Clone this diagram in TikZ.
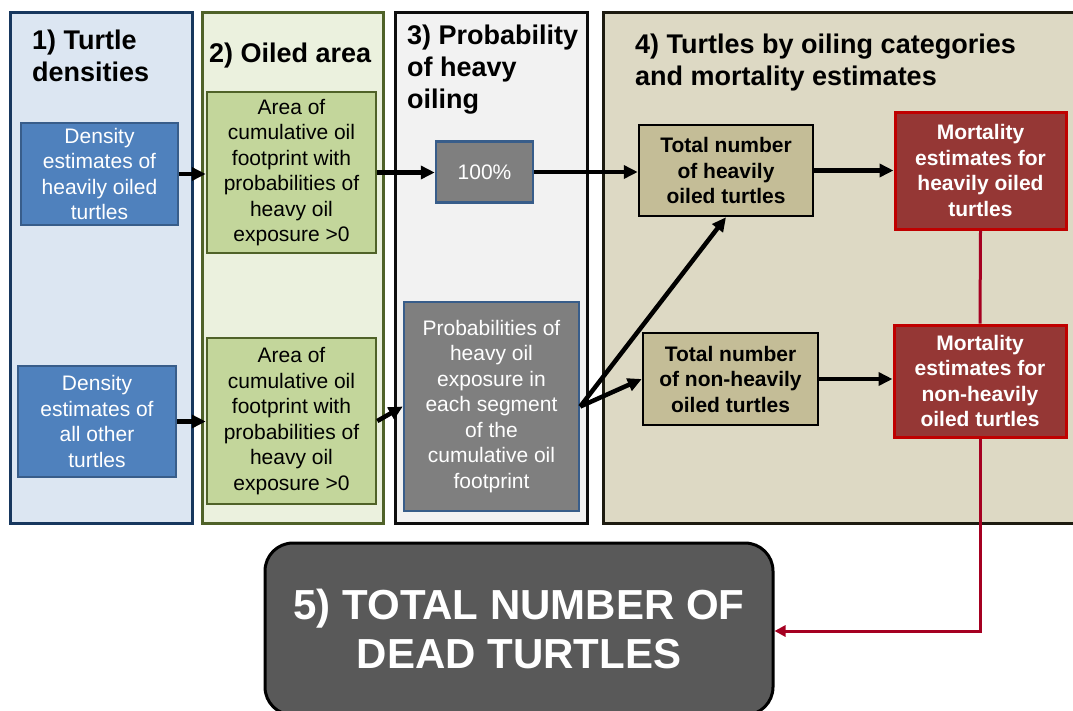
\documentclass[tikz,border=0pt]{standalone}
\usepackage{fontspec}
\setmainfont{Liberation Sans}
\usetikzlibrary{arrows.meta}
\definecolor{colAfill}{HTML}{DCE6F2}
\definecolor{colAdraw}{HTML}{17375E}
\definecolor{colBfill}{HTML}{EBF1DE}
\definecolor{colBdraw}{HTML}{4F6228}
\definecolor{colCfill}{HTML}{F2F2F2}
\definecolor{colCdraw}{HTML}{0D0D0D}
\definecolor{colDfill}{HTML}{DDD9C4}
\definecolor{colDdraw}{HTML}{1D1B10}
\definecolor{bluefill}{HTML}{4F81BD}
\definecolor{bluedraw}{HTML}{385D8A}
\definecolor{greenfill}{HTML}{C3D69B}
\definecolor{grayfill}{HTML}{7F7F7F}
\definecolor{tanfill}{HTML}{C4BD97}
\definecolor{redfill}{HTML}{953735}
\definecolor{reddraw}{HTML}{C00000}
\definecolor{deadfill}{HTML}{595959}
\definecolor{redline}{HTML}{A50021}
\tikzset{
  column/.style={draw, line width=3pt, inner sep=0pt},
  coltitle/.style={anchor=north west, align=left, inner sep=0pt, font=\bfseries\fontsize{27}{32}\selectfont},
  box/.style={draw, line width=2.5pt, align=center, inner sep=0pt, font=\fontsize{21}{25.5}\selectfont},
  bluebox/.style={box, fill=bluefill, draw=bluedraw, text=white},
  greenbox/.style={box, fill=greenfill, draw=colBdraw, text=black},
  graybox/.style={box, fill=grayfill, draw=bluedraw, text=white},
  tanbox/.style={box, fill=tanfill, draw=black, text=black, font=\bfseries\fontsize{21}{25.5}\selectfont},
  redbox/.style={box, fill=redfill, draw=reddraw, line width=3pt, text=white, font=\bfseries\fontsize{21}{25.5}\selectfont},
  flow/.style={line width=4.5pt, -{Triangle[length=14pt,width=13pt]}},
  redflow/.style={draw=redline, line width=3pt},
}
\begin{document}
\begin{tikzpicture}[x=1pt,y=-1pt]
\useasboundingbox (0,0) rectangle (1073,710);
% columns
\node[column, fill=colAfill, draw=colAdraw, minimum width=182pt, minimum height=511pt] (col1) at (101,267.5) {};
\node[column, fill=colBfill, draw=colBdraw, minimum width=181pt, minimum height=511pt] (col2) at (292.5,267.5) {};
\node[column, fill=colCfill, draw=colCdraw, minimum width=192pt, minimum height=511pt] (col3) at (491,267.5) {};
\node[column, fill=colDfill, draw=colDdraw, minimum width=490pt, minimum height=511pt, anchor=west] (col4) at (602,267.5) {};
% titles
\node[coltitle] (t1) at (32,30) {1) Turtle\\densities};
\node[coltitle] (t2) at (209,43) {2) Oiled area};
\node[coltitle] (t3) at (407,25) {3) Probability\\of heavy\\oiling};
\node[coltitle] (t4) at (635,34) {4) Turtles by oiling categories\\and mortality estimates};
% boxes
\node[bluebox, minimum width=157pt, minimum height=102pt] (dh) at (99.5,174) {Density\\estimates of\\heavily oiled\\turtles};
\node[bluebox, minimum width=158pt, minimum height=111pt] (do) at (97,421.5) {Density\\estimates of\\all other\\turtles};
\node[greenbox, minimum width=169pt, minimum height=161pt] (at) at (291.5,172.5) {Area of\\cumulative oil\\footprint with\\probabilities of\\heavy oil\\exposure >0};
\node[greenbox, minimum width=169pt, minimum height=166pt] (ab) at (291.5,421) {Area of\\cumulative oil\\footprint with\\probabilities of\\heavy oil\\exposure >0};
\node[graybox, minimum width=97pt, minimum height=61pt] (hp) at (484.5,172) {100\%};
\node[graybox, minimum width=175pt, minimum height=209pt] (pr) at (491.5,406.5) {Probabilities of\\heavy oil\\exposure in\\each segment\\of the\\cumulative oil\\footprint};
\node[tanbox, minimum width=174pt, minimum height=91pt] (th) at (726,170.5) {Total number\\of heavily\\oiled turtles};
\node[tanbox, minimum width=175pt, minimum height=92pt] (tn) at (730.5,379) {Total number\\of non-heavily\\oiled turtles};
\node[redbox, minimum width=171pt, minimum height=117pt] (mh) at (980.5,170.5) {Mortality\\estimates for\\heavily oiled\\turtles};
\node[redbox, minimum width=172pt, minimum height=112pt] (mn) at (980,381) {Mortality\\estimates for\\non-heavily\\oiled turtles};
\node[draw=black, fill=deadfill, line width=3pt, rounded corners=28pt, minimum width=508pt, minimum height=172pt, inner sep=0pt, align=center, text=white, font=\bfseries\fontsize{42}{49}\selectfont] (dead) at (519,629) {5) TOTAL NUMBER OF\\DEAD TURTLES};
% connectors
\draw[flow] (dh) -- (dh -| at.west);
\draw[flow] (do) -- (do -| ab.west);
\draw[flow] (at) -- (at -| hp.west);
\draw[flow] (hp) -- (hp -| th.west);
\draw[flow] (th) -- (th -| mh.west);
\draw[flow] (ab.east) -- (pr.west);
\draw[flow] (pr.east) -- (th.south);
\draw[flow] (pr.east) -- (tn.west);
\draw[flow] (tn) -- (tn -| mn.west);
\draw[redflow] (mh.south) -- (mn.north);
\draw[redflow, -{Triangle[length=11pt,width=11pt]}] (mn.south) |- ([yshift=-2pt]dead.east);
\end{tikzpicture}
\end{document}
